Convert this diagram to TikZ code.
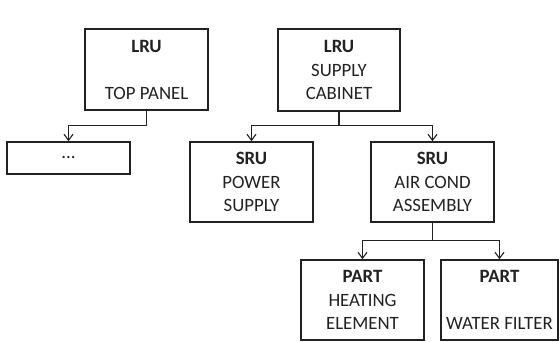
\documentclass[tikz,border=0pt]{standalone}
\usepackage{fontspec}
\setmainfont{Carlito}
\usetikzlibrary{arrows.meta}
\definecolor{ink}{HTML}{222222}
\tikzset{
  unitbox/.style={draw=ink, line width=1.6pt, rectangle, align=center, text=ink,
    inner sep=1pt, font=\fontsize{18.8}{23.5}\selectfont},
  link/.style={draw=ink, line width=1.1pt, -{Straight Barb[length=6pt,width=9pt,line width=1.1pt]}},
  stem/.style={draw=ink, line width=1.1pt}
}
\begin{document}
\begin{tikzpicture}[x=1pt,y=-1pt]
\useasboundingbox[fill=white] (0,0) rectangle (560,342);
\node[unitbox, minimum width=123pt, minimum height=81pt] (lru1) at (146.5,69.5) {\textbf{LRU}\\~\\TOP PANEL};
\node[unitbox, minimum width=123pt, minimum height=32pt] (dots) at (68.5,158) {...};
\node[unitbox, minimum width=122pt, minimum height=82pt] (lru2) at (339,70) {\textbf{LRU}\\SUPPLY\\CABINET};
\node[unitbox, minimum width=123pt, minimum height=80pt] (sru1) at (251.5,182) {\textbf{SRU}\\POWER\\SUPPLY};
\node[unitbox, minimum width=123pt, minimum height=80pt] (sru2) at (432.5,182) {\textbf{SRU}\\AIR COND\\ASSEMBLY};
\node[unitbox, minimum width=123pt, minimum height=80pt] (part1) at (362.5,300) {\textbf{PART}\\HEATING\\ELEMENT};
\node[unitbox, minimum width=117pt, minimum height=80pt] (part2) at (499.5,300) {\textbf{PART}\\~\\WATER FILTER};
\path (lru1.south) ++(0,15) coordinate (j1);
\path (lru2.south) ++(0,14) coordinate (j2);
\path (sru2.south) ++(0,18) coordinate (j3);
\draw[stem] (lru1.south) -- (j1);
\draw[link] (j1) -| (dots.north);
\draw[stem] (lru2.south) -- (j2);
\draw[link] (j2) -| (sru1.north);
\draw[link] (j2) -| (sru2.north);
\draw[stem] (sru2.south) -- (j3);
\draw[link] (j3) -| (part1.north);
\draw[link] (j3) -| (part2.north);
\end{tikzpicture}
\end{document}
